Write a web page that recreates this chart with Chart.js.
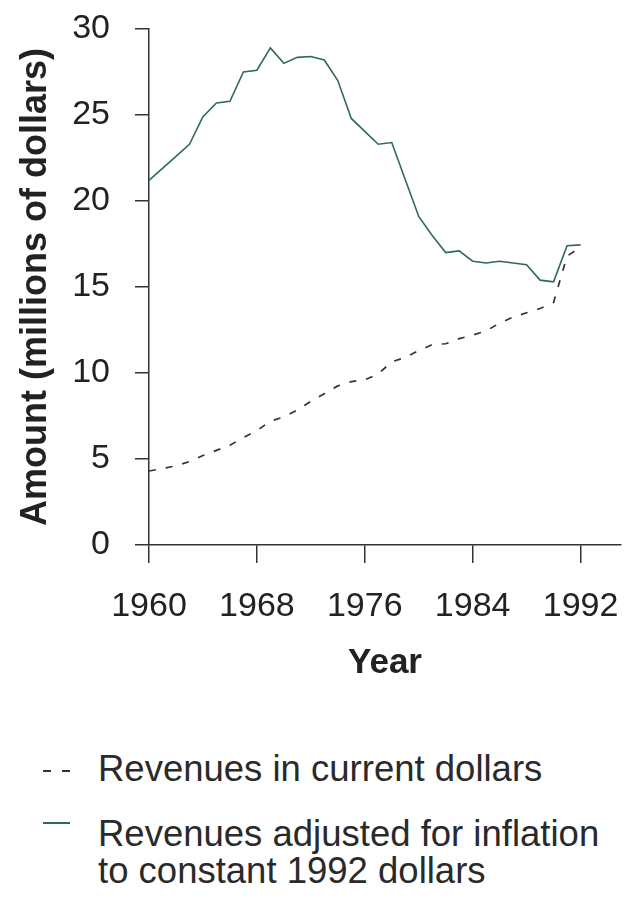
<!DOCTYPE html>
<html>
<head>
<meta charset="utf-8">
<script src="https://cdn.jsdelivr.net/npm/chart.js@4.4.1/dist/chart.umd.min.js"></script>
<style>
  body { margin: 0; background: #fff; width: 640px; height: 907px; overflow: hidden; position: relative;
         font-family: "Liberation Sans", Arial, sans-serif; color: #2a2a2a; }
  #chart { position: absolute; left: 0; top: 0; }
  #legend { position: absolute; left: 0; top: 0; width: 640px; }
  .item { position: absolute; left: 98px; font-size: 36.5px; line-height: 37px; white-space: nowrap; }
  .swatch { position: absolute; left: -55px; width: 27px; height: 2px; }
</style>
</head>
<body>
<canvas id="chart" width="640" height="700"></canvas>
<div id="legend"></div>
<script>
const years = [1960, 1961, 1962, 1963, 1964, 1965, 1966, 1967, 1968, 1969, 1970,
  1971, 1972, 1973, 1974, 1975, 1976, 1977, 1978, 1979, 1980, 1981,
  1982, 1983, 1984, 1985, 1986, 1987, 1988, 1989, 1990, 1991, 1992];

// millions of dollars
const currentDollars = [4.3, 4.45, 4.6, 4.85, 5.2, 5.5, 5.8, 6.25, 6.65, 7.2, 7.45,
  7.85, 8.35, 8.8, 9.25, 9.5, 9.6, 9.95, 10.65, 10.9, 11.3, 11.65,
  11.7, 12.0, 12.2, 12.45, 12.9, 13.25, 13.5, 13.75, 14.1, 16.8, 17.3];

const adjustedDollars = [21.2, 21.9, 22.6, 23.3, 24.9, 25.7, 25.8, 27.5, 27.6, 28.9, 28.0,
  28.35, 28.4, 28.2, 27.0, 24.8, 24.05, 23.3, 23.4, 21.25, 19.1, 18.0,
  17.0, 17.1, 16.5, 16.4, 16.5, 16.4, 16.3, 15.4, 15.3, 17.4, 17.45];

const xTicks = [1960, 1968, 1976, 1984, 1992];
const yTicks = [0, 5, 10, 15, 20, 25, 30];

const seriesLabels = [
  ['Revenues in current dollars'],
  ['Revenues adjusted for inflation', 'to constant 1992 dollars']
];

const ink = '#333';
const green = '#2f6b50';
const font = '"Liberation Sans", Arial, sans-serif';

const toPoints = (values) => years.map((x, i) => ({ x, y: values[i] }));

const chart = new Chart(document.getElementById('chart'), {
  type: 'line',
  data: {
    datasets: [
      {
        label: seriesLabels[0],
        data: toPoints(currentDollars),
        borderColor: ink,
        borderWidth: 1.7,
        borderDash: [7, 10],
        pointRadius: 0,
        tension: 0
      },
      {
        label: seriesLabels[1],
        data: toPoints(adjustedDollars),
        borderColor: green,
        borderWidth: 1.6,
        pointRadius: 0,
        tension: 0
      }
    ]
  },
  options: {
    responsive: false,
    animation: false,
    devicePixelRatio: 1,
    layout: { padding: { left: 0, top: 29, right: 19, bottom: 0 } },
    plugins: { legend: { display: false }, tooltip: { enabled: false } },
    scales: {
      x: {
        type: 'linear',
        min: 1960,
        max: 1995,
        afterBuildTicks: (scale) => { scale.ticks = xTicks.map((value) => ({ value })); },
        afterFit: (scale) => {
          scale.height = 155;
          scale.paddingLeft = 0;
          scale.paddingRight = 0;
        },
        border: { color: ink, width: 1.5 },
        grid: { drawOnChartArea: false, color: ink, lineWidth: 1.5, tickLength: 18 },
        ticks: {
          color: '#222',
          padding: 23,
          maxRotation: 0,
          font: { family: font, size: 34 },
          callback: (value) => String(value)
        },
        title: {
          display: true,
          text: 'Year',
          color: '#222',
          padding: { top: 0, bottom: 16 },
          font: { family: font, size: 35, weight: 'bold' }
        }
      },
      y: {
        min: 0,
        max: 30,
        afterBuildTicks: (scale) => { scale.ticks = yTicks.map((value) => ({ value })); },
        afterFit: (scale) => {
          scale.width = 149;
          scale.paddingTop = 0;
          scale.paddingBottom = 0;
        },
        border: { color: ink, width: 1.5 },
        grid: { drawOnChartArea: false, color: ink, lineWidth: 1.5, tickLength: 14 },
        ticks: {
          color: '#222',
          padding: 25,
          font: { family: font, size: 34 }
        },
        title: {
          display: true,
          text: 'Amount (millions of dollars)',
          color: '#222',
          padding: { top: 14, bottom: 0 },
          font: { family: font, size: 36, weight: 'bold' }
        }
      }
    }
  }
});

// legend under the chart, built from the datasets
const legend = document.getElementById('legend');
const legendTops = [750, 815];
chart.data.datasets.forEach((ds, i) => {
  const item = document.createElement('div');
  item.className = 'item';
  item.style.top = legendTops[i] + 'px';
  item.innerHTML = ds.label.join('<br>');
  const sw = document.createElement('div');
  sw.className = 'swatch';
  if (ds.borderDash) {
    sw.style.top = '20px';
    sw.style.background = `repeating-linear-gradient(90deg, ${ds.borderColor} 0 8px, transparent 8px 19px)`;
  } else {
    sw.style.top = '7px';
    sw.style.background = ds.borderColor;
  }
  item.appendChild(sw);
  legend.appendChild(item);
});
</script>
</body>
</html>
